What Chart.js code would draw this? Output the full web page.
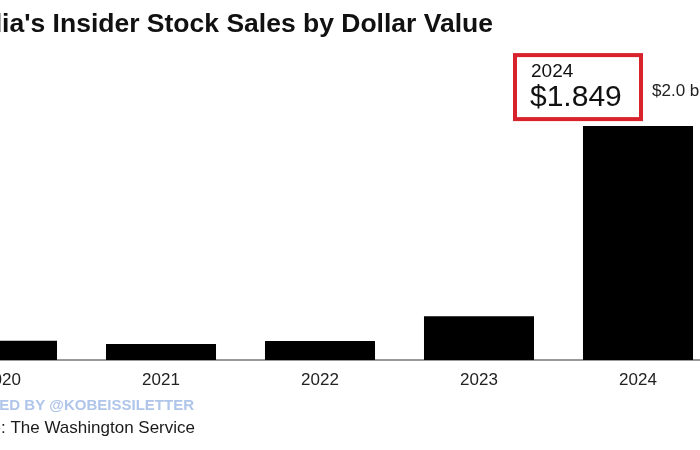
<!DOCTYPE html>
<html>
<head>
<meta charset="utf-8">
<script src="https://cdn.jsdelivr.net/npm/chart.js@4.4.1/dist/chart.umd.min.js"></script>
<style>
  html, body { margin: 0; padding: 0; background: #fff; }
  body { width: 700px; height: 450px; overflow: hidden; position: relative; }
  #wrap { position: absolute; left: -100px; top: 0; }
</style>
</head>
<body>
<div id="wrap"><canvas id="chart" width="900" height="450"></canvas></div>
<script>
const years = ["2020", "2021", "2022", "2023", "2024"]
const salesBillions = [0.153, 0.126, 0.150, 0.345, 1.849]
const yTicks = [0, 0.5, 1.0, 1.5, 2.0]
const yTickLabels = ["0", "0.5", "1.0", "1.5", "$2.0 billion"]
const titleText = "Nvidia's Insider Stock Sales by Dollar Value"
const creditText = "POSTED BY @KOBEISSILETTER"
const sourceText = "Source: The Washington Service"
const highlightIndex = 4
const highlightYear = "2024"
const highlightLabel = "$1.849"

// the canvas is wider than the window and pushed left, so it is cropped like the reference
const SHIFT = 100
const FONT = '"Liberation Sans", Arial, sans-serif'

Chart.defaults.font.family = FONT

const textPlugin = {
  id: "texts",
  afterDraw(chart) {
    const ctx = chart.ctx
    const x = chart.scales.x
    const y = chart.scales.y
    ctx.save()

    // title
    ctx.fillStyle = "#111"
    ctx.font = "bold 26.5px " + FONT
    ctx.textAlign = "right"
    ctx.textBaseline = "middle"
    ctx.fillText(titleText, SHIFT + 493, 25)

    // right-side value labels, sitting above their gridline
    ctx.font = "17px " + FONT
    ctx.fillStyle = "#222"
    const widest = Math.max(...yTickLabels.map(t => ctx.measureText(t).width))
    const labelRight = SHIFT + 652 + widest
    yTicks.forEach((v, i) => {
      ctx.fillText(yTickLabels[i], labelRight, y.getPixelForValue(v) - 16)
    })

    // highlighted value box
    const cx = x.getPixelForValue(highlightIndex)
    const top = y.getPixelForValue(salesBillions[highlightIndex])
    ctx.strokeStyle = "#d8222c"
    ctx.lineWidth = 4
    ctx.strokeRect(cx - 123, top - 71, 126, 64)
    ctx.fillStyle = "#111"
    ctx.textAlign = "left"
    ctx.textBaseline = "alphabetic"
    ctx.font = "19px " + FONT
    ctx.fillText(highlightYear, cx - 107, top - 49)
    ctx.font = "30px " + FONT
    ctx.fillText(highlightLabel, cx - 108, top - 20)

    // footer
    ctx.textAlign = "right"
    ctx.textBaseline = "middle"
    ctx.font = "bold 15px " + FONT
    ctx.fillStyle = "#b0c5ea"
    ctx.fillText(creditText, SHIFT + 194, 406)
    ctx.font = "17px " + FONT
    ctx.fillStyle = "#1a1a1a"
    ctx.fillText(sourceText, SHIFT + 195, 428)

    ctx.restore()
  }
}

new Chart(document.getElementById("chart"), {
  type: "bar",
  data: {
    labels: years,
    datasets: [{
      data: salesBillions,
      backgroundColor: "#000",
      barPercentage: 0.692,
      categoryPercentage: 1.0
    }]
  },
  options: {
    responsive: false,
    animation: false,
    layout: { padding: { left: 22.5, right: 82.5, top: 107, bottom: 0 } },
    plugins: {
      legend: { display: false },
      tooltip: { enabled: false }
    },
    scales: {
      x: {
        grid: { display: false, drawTicks: false },
        border: { display: true, color: "#999", width: 2 },
        ticks: { color: "#222", font: { size: 17 }, padding: 10 },
        afterFit: (scale) => { scale.height = 90 }
      },
      y: {
        display: false,
        min: 0,
        max: 2.0
      }
    }
  },
  plugins: [textPlugin]
})
</script>
</body>
</html>
